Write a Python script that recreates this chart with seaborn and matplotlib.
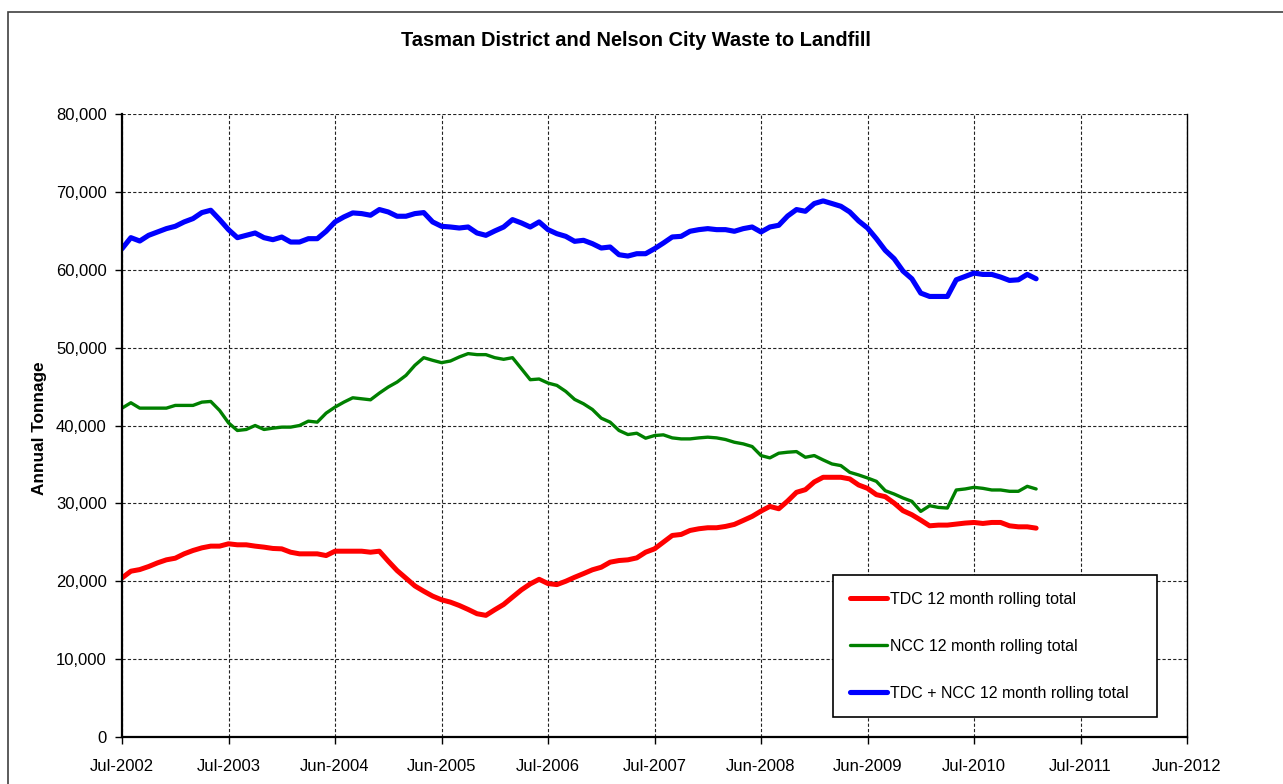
import numpy as np
import pandas as pd
import matplotlib
matplotlib.use("Agg")
import matplotlib.pyplot as plt
import seaborn as sns
from matplotlib.patches import Rectangle
from matplotlib.ticker import FuncFormatter

# ---------------- data (monthly, starting Jul-2002) ----------------
tick_labels = ["Jul-2002", "Jul-2003", "Jun-2004", "Jun-2005", "Jul-2006",
               "Jul-2007", "Jun-2008", "Jun-2009", "Jul-2010", "Jul-2011", "Jun-2012"]

tdc = [20430, 21290, 21500, 21890, 22360, 22750, 22960, 23520, 23950, 24290,
       24510, 24510, 24810, 24680, 24680, 24510, 24380, 24210, 24160, 23730,
       23520, 23520, 23520, 23300, 23860, 23860, 23860, 23860, 23730, 23860,
       22580, 21370, 20390, 19400, 18720, 18090, 17620, 17320, 16890, 16380,
       15830, 15620, 16340, 17020, 17960, 18890, 19660, 20250, 19700, 19570,
       20000, 20510, 20980, 21470, 21800, 22450, 22660, 22750, 23000, 23730,
       24160, 25020, 25880, 26010, 26520, 26740, 26870, 26870, 27040, 27300,
       27810, 28330, 29010, 29610, 29310, 30300, 31420, 31760, 32750, 33350,
       33350, 33350, 33140, 32360, 31930, 31120, 30860, 30040, 29060, 28540,
       27850, 27120, 27210, 27210, 27340, 27470, 27550, 27420, 27550, 27550,
       27120, 26990, 26990, 26820]

ncc = [42230, 42920, 42230, 42230, 42230, 42230, 42580, 42580, 42580, 43000,
       43090, 41930, 40340, 39360, 39490, 40000, 39490, 39660, 39790, 39790,
       40000, 40560, 40430, 41590, 42360, 43000, 43560, 43430, 43300, 44160,
       44940, 45580, 46440, 47730, 48710, 48370, 48070, 48280, 48800, 49230,
       49100, 49100, 48710, 48500, 48710, 47300, 45880, 45970, 45450, 45150,
       44380, 43350, 42790, 42060, 40940, 40430, 39360, 38840, 39010, 38370,
       38710, 38800, 38410, 38280, 38280, 38410, 38500, 38410, 38200, 37850,
       37640, 37300, 36140, 35840, 36440, 36570, 36650, 35920, 36140, 35580,
       35060, 34850, 33990, 33650, 33260, 32830, 31630, 31200, 30690, 30260,
       28970, 29700, 29480, 29400, 31720, 31850, 32060, 31930, 31720, 31720,
       31550, 31550, 32190, 31850]

total = [62700, 64120, 63690, 64420, 64850, 65280, 65580, 66140, 66570, 67340,
         67640, 66440, 65150, 64120, 64420, 64720, 64120, 63860, 64200, 63560,
         63560, 63990, 63990, 64940, 66140, 66780, 67300, 67210, 67000, 67730,
         67420, 66870, 66870, 67210, 67340, 66140, 65580, 65490, 65360, 65490,
         64720, 64420, 64980, 65490, 66440, 66010, 65490, 66140, 65150, 64630,
         64290, 63650, 63780, 63350, 62790, 62920, 61930, 61760, 62060, 62060,
         62700, 63430, 64210, 64290, 64940, 65150, 65280, 65150, 65150, 64940,
         65280, 65490, 64850, 65490, 65710, 66900, 67730, 67510, 68500, 68840,
         68500, 68150, 67420, 66270, 65360, 63990, 62490, 61420, 59830, 58840,
         57000, 56570, 56570, 56570, 58710, 59140, 59570, 59400, 59400, 59060,
         58630, 58710, 59400, 58840]

series_labels = ["TDC 12 month rolling total",
                 "NCC 12 month rolling total",
                 "TDC + NCC 12 month rolling total"]

months = np.arange(len(tdc))
df = pd.DataFrame({"month": months, "tdc": tdc, "ncc": ncc, "total": total})

# ---------------- style ----------------
sns.set_style("white")
plt.rcParams['font.family'] = ['Liberation Sans', 'DejaVu Sans']
plt.rcParams['text.color'] = 'black'

W, H = 1283, 784
fig = plt.figure(figsize=(W / 100, H / 100), dpi=100)
ax = fig.add_axes([122 / W, 1 - 737 / H, (1187 - 122) / W, (737 - 114) / H])

line_kw = dict(solid_capstyle="round", solid_joinstyle="round")
sns.lineplot(data=df, x="month", y="tdc", ax=ax, color="#ff0000",
             linewidth=3.6, label=series_labels[0], **line_kw)
sns.lineplot(data=df, x="month", y="ncc", ax=ax, color="#008000",
             linewidth=2.4, label=series_labels[1], **line_kw)
sns.lineplot(data=df, x="month", y="total", ax=ax, color="#0000ff",
             linewidth=3.7, label=series_labels[2], **line_kw)

ax.set_xlim(0, 120)
ax.set_ylim(0, 80000)
ax.set_xticks(np.arange(0, 121, 12))
ax.set_xticklabels(tick_labels)
ax.set_yticks(np.arange(0, 80001, 10000))
ax.yaxis.set_major_formatter(FuncFormatter(lambda v, p: f"{int(v):,}"))

ax.grid(True, color="#222222", linestyle=(0, (2.9, 1.9)), linewidth=0.8)
ax.set_axisbelow(True)

for s in ["left", "bottom"]:
    ax.spines[s].set_color("black")
    ax.spines[s].set_linewidth(1.6)
ax.spines["right"].set_color("black")
ax.spines["right"].set_linewidth(1.0)
ax.spines["top"].set_visible(False)

ax.tick_params(axis="both", which="major", bottom=True, left=True,
               direction="out", length=5, width=1, colors="black", labelsize=12)
ax.tick_params(axis="y", pad=6)
ax.tick_params(axis="x", pad=11)

ax.set_xlabel("")
ax.set_ylabel("")

# Title and y label
fig.text(636 / W, 1 - 41 / H, "Tasman District and Nelson City Waste to Landfill",
         ha="center", va="center", fontsize=14.4, fontweight="bold", color="black")
fig.text(40 / W, 1 - 428 / H, "Annual Tonnage", rotation=90,
         ha="center", va="center", fontsize=12.4, fontweight="bold", color="black")

# Legend
leg = ax.legend(loc="upper left", bbox_to_anchor=(0.668, 0.034, 0.304, 0.226),
                mode="expand", borderaxespad=0, frameon=True, fancybox=False,
                shadow=False, fontsize=11.5, handlelength=2.3, handletextpad=0.2,
                labelspacing=2.0, borderpad=1.05, framealpha=1)
leg.get_frame().set_edgecolor("black")
leg.get_frame().set_linewidth(1.2)
for t in leg.get_texts():
    t.set_color("black")

# Chart-area border
fig.patches.append(Rectangle((8 / W, -0.02), 1.1, 1 - 12 / H + 0.02,
                             transform=fig.transFigure, fill=False,
                             edgecolor="#404040", linewidth=1.2))

fig.savefig("out.png", dpi=100)
